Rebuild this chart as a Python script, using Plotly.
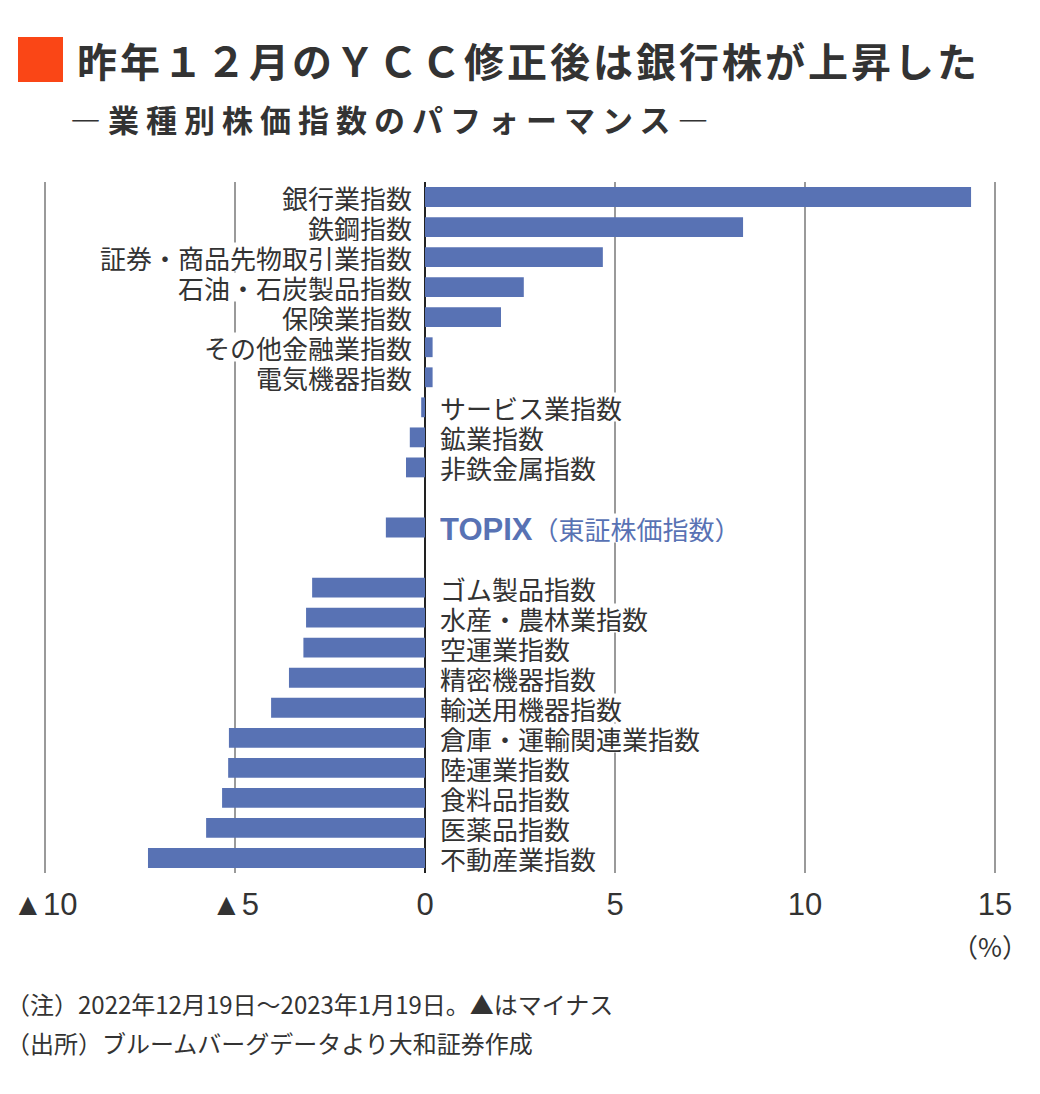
import plotly.graph_objects as go

# ---- data ----
categories = [
    "銀行業指数", "鉄鋼指数", "証券・商品先物取引業指数", "石油・石炭製品指数",
    "保険業指数", "その他金融業指数", "電気機器指数", "サービス業指数",
    "鉱業指数", "非鉄金属指数", " ", "TOPIX（東証株価指数）", "  ",
    "ゴム製品指数", "水産・農林業指数", "空運業指数", "精密機器指数",
    "輸送用機器指数", "倉庫・運輸関連業指数", "陸運業指数", "食料品指数",
    "医薬品指数", "不動産業指数",
]
values = [
    14.37, 8.37, 4.68, 2.6,
    2.0, 0.2, 0.2, -0.1,
    -0.4, -0.5, None, -1.03, None,
    -2.97, -3.13, -3.2, -3.58,
    -4.05, -5.16, -5.18, -5.34,
    -5.76, -7.29,
]
tick_vals = [-10, -5, 0, 5, 10, 15]
tick_text = ["▲10", "▲5", "0", "5", "10", "15"]

title = "昨年１２月のＹＣＣ修正後は銀行株が上昇した"
subtitle = "―業種別株価指数のパフォーマンス―"
note1 = "（注）2022年12月19日～2023年1月19日。▲はマイナス"
note2 = "（出所）ブルームバーグデータより大和証券作成"
highlight = "TOPIX（東証株価指数）"

BAR = "#5872b4"
TXT = "#333333"
CJK = "Noto Sans CJK JP"

W, H = 1040, 1094
ML, MR, MT, MB = 26, 26, 182, 221
PW = W - ML - MR
PH = H - MT - MB


def px(x):
    return (x - ML) / PW


def py(y):
    return (H - MB - y) / PH


fig = go.Figure()
fig.add_trace(go.Bar(
    x=values, y=categories, orientation="h",
    marker=dict(color=BAR, line=dict(width=0)),
    hoverinfo="x+y",
))

annotations = []
for cat, v in zip(categories, values):
    if v is None:
        continue
    if cat == highlight:
        text = ("<b><span style='font-family:Liberation Sans;font-size:31px'>TOPIX</span></b>"
                "（東証株価指数）")
        color = BAR
    else:
        text = cat
        color = TXT
    common = dict(x=0, y=cat, xref="x", yref="y", text=text, yanchor="middle",
                  showarrow=False, bgcolor="white", borderpad=0, height=28,
                  font=dict(family=CJK, size=26, color=color))
    if v >= 0:
        annotations.append(dict(common, xanchor="right", xshift=-12))
    else:
        annotations.append(dict(common, xanchor="left", xshift=14))

annotations += [
    dict(x=px(75), y=py(60), xref="paper", yref="paper",
         text="<b><span style='letter-spacing:3px'>" + title + "</span></b>",
         xanchor="left", yanchor="middle", showarrow=False,
         font=dict(family=CJK, size=40, color=TXT)),
    dict(x=px(68), y=py(118), xref="paper", yref="paper",
         text="<b><span style='letter-spacing:7px'>" + subtitle + "</span></b>",
         xanchor="left", yanchor="middle", showarrow=False,
         font=dict(family=CJK, size=31, color=TXT)),
    dict(x=px(1030), y=py(945), xref="paper", yref="paper", text="（%）",
         xanchor="right", yanchor="middle", showarrow=False,
         font=dict(family=CJK, size=26, color=TXT)),
    dict(x=px(4), y=py(1003), xref="paper", yref="paper", text=note1,
         xanchor="left", yanchor="middle", showarrow=False,
         font=dict(family=CJK, size=24, color=TXT)),
    dict(x=px(4), y=py(1042), xref="paper", yref="paper", text=note2,
         xanchor="left", yanchor="middle", showarrow=False,
         font=dict(family=CJK, size=24, color=TXT)),
]

fig.update_layout(
    width=W, height=H,
    margin=dict(l=ML, r=MR, t=MT, b=MB, pad=0),
    paper_bgcolor="white", plot_bgcolor="white",
    showlegend=False, bargap=0.34,
    annotations=annotations,
    shapes=[dict(type="rect", xref="paper", yref="paper",
                 x0=px(18), x1=px(63), y0=py(82), y1=py(37),
                 fillcolor="#fa4616", line=dict(width=0))],
    xaxis=dict(range=[-10.5, 15.5], tickvals=tick_vals, ticktext=tick_text,
               showgrid=True, gridcolor="#9a9a9a", gridwidth=1.5,
               zeroline=True, zerolinecolor="#222222", zerolinewidth=1.5,
               showline=False, ticks="", ticklabelstandoff=10,
               tickfont=dict(family="Liberation Sans, DejaVu Sans", size=31, color=TXT),
               fixedrange=True),
    yaxis=dict(categoryorder="array", categoryarray=categories,
               autorange="reversed", showticklabels=False, showgrid=False,
               zeroline=False, showline=False, ticks="", fixedrange=True),
)

fig.write_html(
    "out.html",
    config={"displayModeBar": False},
    post_script="document.body.style.margin='0';document.body.style.overflow='hidden';",
)
